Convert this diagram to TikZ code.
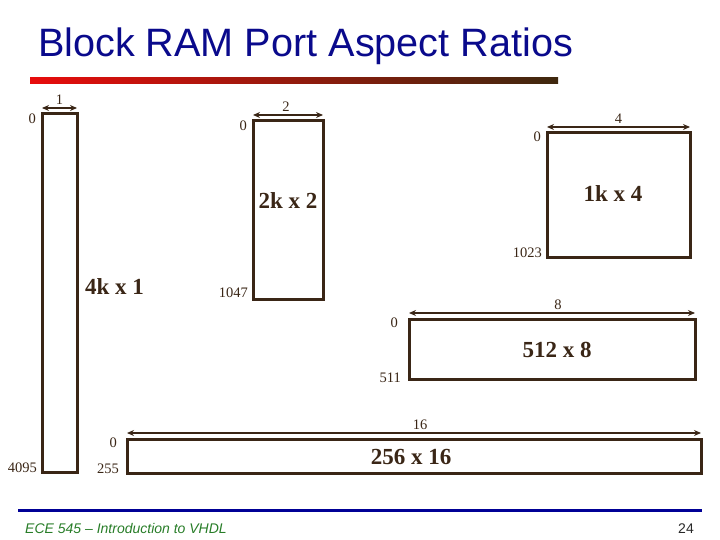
\documentclass[tikz,border=0pt]{standalone}
\usepackage{fontspec}
\setmainfont{Liberation Serif}
\newfontfamily\arialfont{Liberation Sans}
\usetikzlibrary{arrows.meta,positioning,calc}

\definecolor{ramline}{RGB}{58,38,22}
\definecolor{titleblue}{RGB}{10,10,140}
\definecolor{footblue}{RGB}{0,0,150}
\definecolor{footgreen}{RGB}{40,125,40}
\definecolor{footgray}{RGB}{40,40,40}
\definecolor{barred}{RGB}{232,12,12}
\definecolor{barbrown}{RGB}{62,40,14}

\begin{document}
\begin{tikzpicture}[x=1pt,y=-1pt,
  rambox/.style={draw=ramline,line width=3pt,inner sep=0pt,outer sep=0pt,anchor=north west},
  widtharr/.style={{Stealth[length=7pt,width=6pt]}-{Stealth[length=7pt,width=6pt]},draw=ramline,line width=1.6pt},
  addr/.style={text=ramline,font=\fontsize{14.5}{14.5}\selectfont,inner sep=0pt},
  ramname/.style={text=ramline,font=\fontsize{23}{23}\selectfont\bfseries,inner sep=0pt,anchor=base}]
  \useasboundingbox (0,0) rectangle (720,540);

  % title and bar
  \node[anchor=base west,inner sep=0pt,text=titleblue,font=\arialfont\fontsize{39.6}{39.6}\selectfont] (title) at (38,57) {Block RAM Port Aspect Ratios};
  \shade[left color=barred,right color=barbrown] (30,78) rectangle (558,84);

  % 4k x 1
  \node[rambox,minimum width=35,minimum height=358] (b4k) at (42,114) {};
  \draw[widtharr] ([yshift=6pt]b4k.north west) -- ([yshift=6pt]b4k.north east)
    node[addr,midway,above=3pt] (w4k) {1};
  \node[addr,anchor=east] (top4k) at (36,119) {0};
  \node[addr,anchor=east] (bot4k) at (37,468) {4095};
  \node[ramname,anchor=base west] (n4k) at (85,294) {4k x 1};

  % 2k x 2
  \node[rambox,minimum width=70,minimum height=178] (b2k) at (253,121) {};
  \draw[widtharr] ([yshift=6pt]b2k.north west) -- ([yshift=6pt]b2k.north east)
    node[addr,midway,above=3pt,xshift=-2pt] (w2k) {2};
  \node[addr,anchor=east] (top2k) at (247,126) {0};
  \node[addr,anchor=east] (bot2k) at (248,293) {1047};
  \node[ramname] (n2k) at (288,208) {2k x 2};

  % 1k x 4
  \node[rambox,minimum width=143,minimum height=124] (b1k) at (547,133) {};
  \draw[widtharr] ([yshift=6pt]b1k.north west) -- ([yshift=6pt]b1k.north east)
    node[addr,midway,above=3pt] (w1k) {4};
  \node[addr,anchor=east] (top1k) at (541,137) {0};
  \node[addr,anchor=east] (bot1k) at (542,253) {1023};
  \node[ramname] (n1k) at (613,202) {1k x 4};

  % 512 x 8
  \node[rambox,minimum width=286,minimum height=60] (b512) at (409,319) {};
  \draw[widtharr] ([yshift=6pt]b512.north west) -- ([yshift=6pt]b512.north east)
    node[addr,midway,above=3pt,xshift=6pt] (w512) {8};
  \node[addr,anchor=east] (top512) at (398,323) {0};
  \node[addr,anchor=east] (bot512) at (401,378) {511};
  \node[ramname] (n512) at (557,357) {512 x 8};

  % 256 x 16
  \node[rambox,minimum width=574,minimum height=34] (b256) at (127,439) {};
  \draw[widtharr] ([yshift=6pt]b256.north west) -- ([yshift=6pt]b256.north east)
    node[addr,midway,above=3pt,xshift=6pt] (w256) {16};
  \node[addr,anchor=east] (top256) at (117,443) {0};
  \node[addr,anchor=east] (bot256) at (119,469) {255};
  \node[ramname] (n256) at (411,464) {256 x 16};

  % footer
  \draw[footblue,line width=3pt] (18,510) -- (702,510);
  \node[anchor=base west,inner sep=0pt,text=footgreen,font=\arialfont\itshape\fontsize{14}{14}\selectfont] (foot) at (25,533) {ECE 545 – Introduction to VHDL};
  \node[anchor=base east,inner sep=0pt,text=footgray,font=\arialfont\fontsize{14}{14}\selectfont] (page) at (694,533) {24};

\end{tikzpicture}
\end{document}
